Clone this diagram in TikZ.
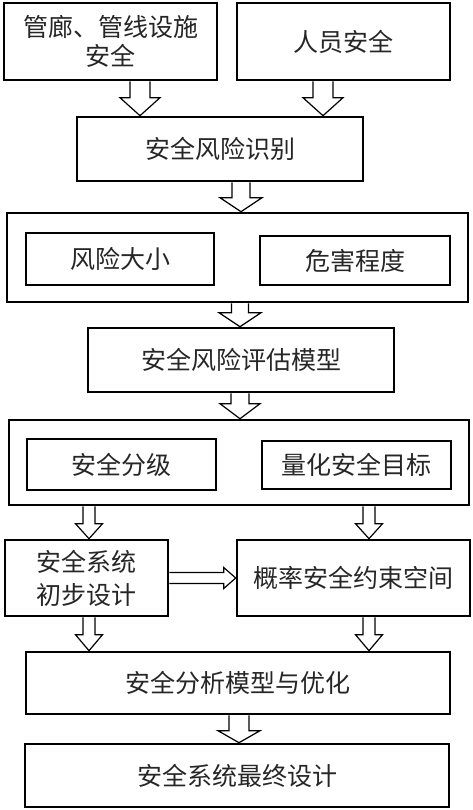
\documentclass[tikz,border=0pt]{standalone}
\usepackage{fontspec}
\setmainfont{Noto Sans CJK SC}
\usetikzlibrary{calc}
\tikzset{
  box/.style={draw=black, line width=2.6pt, fill=white, rectangle, inner sep=0pt,
    font=\fontsize{25}{29}\selectfont, align=center, text=black!85},
  blk/.style={draw=black, line width=1.2pt, fill=white, line join=miter},
}
% vertical block arrow: #1 x, #2 from node, #3 to node, #4 shaft half, #5 head half, #6 head length
\newcommand\vblock[6]{%
  \draw[blk] let \p1=(#2.south), \p2=(#3.north) in
    (#1pt-#4pt,\y1) -- (#1pt-#4pt,\y2+#6pt) -- (#1pt-#5pt,\y2+#6pt) -- (#1pt,\y2)
    -- (#1pt+#5pt,\y2+#6pt) -- (#1pt+#4pt,\y2+#6pt) -- (#1pt+#4pt,\y1);}
% horizontal block arrow: #1 from node, #2 to node, #3 shaft half, #4 head half, #5 head length
\newcommand\hblock[5]{%
  \draw[blk] let \p1=(#1.east), \p2=(#2.west) in
    (\x1,\y1+#3pt) -- (\x2-#5pt,\y1+#3pt) -- (\x2-#5pt,\y1+#4pt) -- (\x2,\y1)
    -- (\x2-#5pt,\y1-#4pt) -- (\x2-#5pt,\y1-#3pt) -- (\x1,\y1-#3pt);}
\begin{document}
\begin{tikzpicture}[x=1pt,y=-1pt]
\useasboundingbox[fill=white] (0,0) rectangle (473,810);
% top row
\node[box, minimum width=213pt, minimum height=77pt] (b1) at (110.5,41.5) {管廊、管线设施\\安全};
\node[box, minimum width=213pt, minimum height=77pt] (b2) at (343.5,41.5) {人员安全};
\node[box, minimum width=286pt, minimum height=64pt] (b3) at (220,149) {安全风险识别};
% risk group
\node[box, minimum width=461pt, minimum height=89pt] (b4) at (237.5,257.5) {};
\node[box, minimum width=188pt, minimum height=52pt] (b4l) at (120,259) {风险大小};
\node[box, minimum width=190pt, minimum height=49pt] (b4r) at (355,260.5) {危害程度};
\node[box, minimum width=306pt, minimum height=64pt] (b5) at (241,360) {安全风险评估模型};
% grading group
\node[box, minimum width=460pt, minimum height=85pt] (b6) at (239,462.5) {};
\node[box, minimum width=189pt, minimum height=51pt] (b6l) at (121.5,464.5) {安全分级};
\node[box, minimum width=189pt, minimum height=48pt] (b6r) at (356.5,465) {量化安全目标};
% design row
\node[box, minimum width=163pt, minimum height=76pt, font=\fontsize{25}{33}\selectfont] (b7) at (86.5,578) {安全系统\\初步设计};
\node[box, minimum width=233pt, minimum height=76pt] (b8) at (353.5,578) {概率安全约束空间};
\node[box, minimum width=424pt, minimum height=62pt] (b9) at (238,683) {安全分析模型与优化};
\node[box, minimum width=424pt, minimum height=63pt] (b10) at (237,775.5) {安全系统最终设计};
% arrows
\vblock{140}{b1}{b3}{10}{20}{18}
\vblock{323}{b2}{b3}{10}{20}{18}
\vblock{241}{b3}{b4}{9}{21}{14}
\vblock{240}{b4}{b5}{8.5}{21}{14}
\vblock{240}{b5}{b6}{9}{20}{15}
\vblock{89}{b6}{b7}{6}{13.5}{15}
\vblock{369}{b6}{b8}{6}{13.5}{15}
\hblock{b7}{b8}{5.5}{10.5}{12}
\vblock{89}{b7}{b9}{6}{13.5}{16}
\vblock{369}{b8}{b9}{6}{13.5}{16}
\vblock{239}{b9}{b10}{10}{21}{12}
\end{tikzpicture}
\end{document}
